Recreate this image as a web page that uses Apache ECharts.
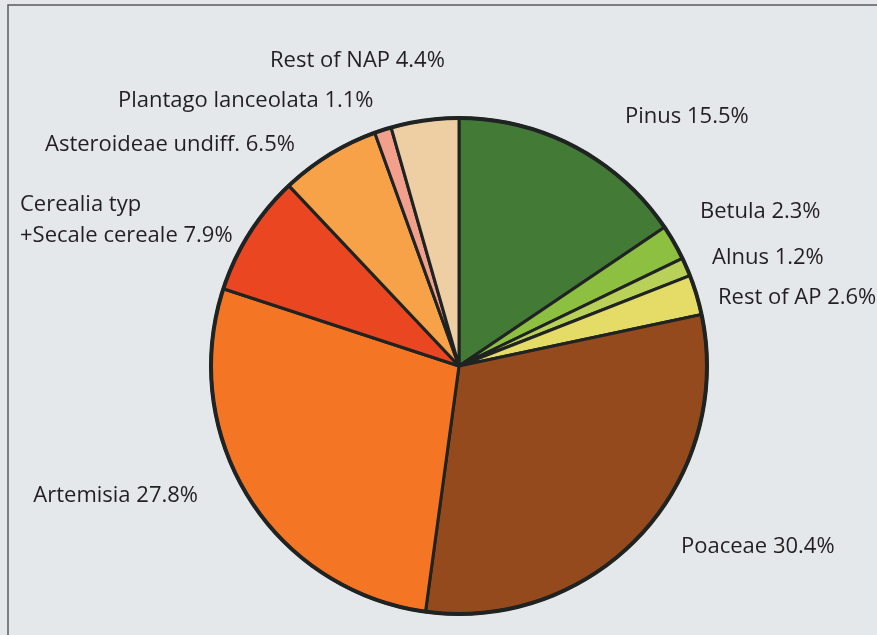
<!DOCTYPE html>
<html><head><meta charset="utf-8">
<script src="https://cdn.jsdelivr.net/npm/echarts@6/dist/echarts.min.js"></script>
<style>html,body{margin:0;padding:0;background:#e4e8eb}#c{width:877px;height:635px}</style>
</head><body><div id="c"></div>
<script>
const categories = ['Pinus','Betula','Alnus','Rest of AP','Poaceae','Artemisia','Cerealia typ\n+Secale cereale','Asteroideae undiff.','Plantago lanceolata','Rest of NAP'];
const values = [15.5, 2.3, 1.2, 2.6, 30.4, 27.8, 7.9, 6.5, 1.1, 4.4];
const colors = ['#437a36','#8dbf40','#b9d159','#e4dc66','#944a1c','#f47624','#eb4622','#f7a148','#f2a08c','#eecfa3'];
// label anchor positions [x, y, align]
const labelPos = [
  [625,117,'left'],[700,212,'left'],[712,258,'left'],[718,298,'left'],[681,547,'left'],
  [198,496,'right'],[20,220,'left'],[45,145,'left'],[118,101,'left'],[270,61,'left']
];
const chart = echarts.init(document.getElementById('c'));
chart.setOption({
  backgroundColor:'#e4e8eb',
  animation:false,
  graphic:[{type:'rect',shape:{x:8,y:5,width:900,height:700},style:{fill:'none',stroke:'#5a5a5a',lineWidth:1.5},z:-1}],
  series:[
    {type:'pie',center:[459,366],radius:248,startAngle:90,clockwise:true,
     data:categories.map((n,i)=>({name:n,value:values[i],itemStyle:{color:colors[i]}})),
     itemStyle:{borderColor:'#1f2322',borderWidth:3},
     label:{show:true,formatter:'{b} {c}%',color:'#231f20',fontFamily:'Open Sans',fontSize:22,lineHeight:31,overflow:'none'},
     labelLine:{show:false},
     labelLayout:function(p){const q=labelPos[p.dataIndex];return {x:q[0],y:q[1],align:q[2],verticalAlign:'middle',width:400};},
     emphasis:{disabled:true}},
    {type:'pie',center:[459,366],radius:[246,250],silent:true,label:{show:false},labelLine:{show:false},
     data:[{value:1,itemStyle:{color:'#1f2322'}}],emphasis:{disabled:true}}
  ]
});
</script></body></html>
